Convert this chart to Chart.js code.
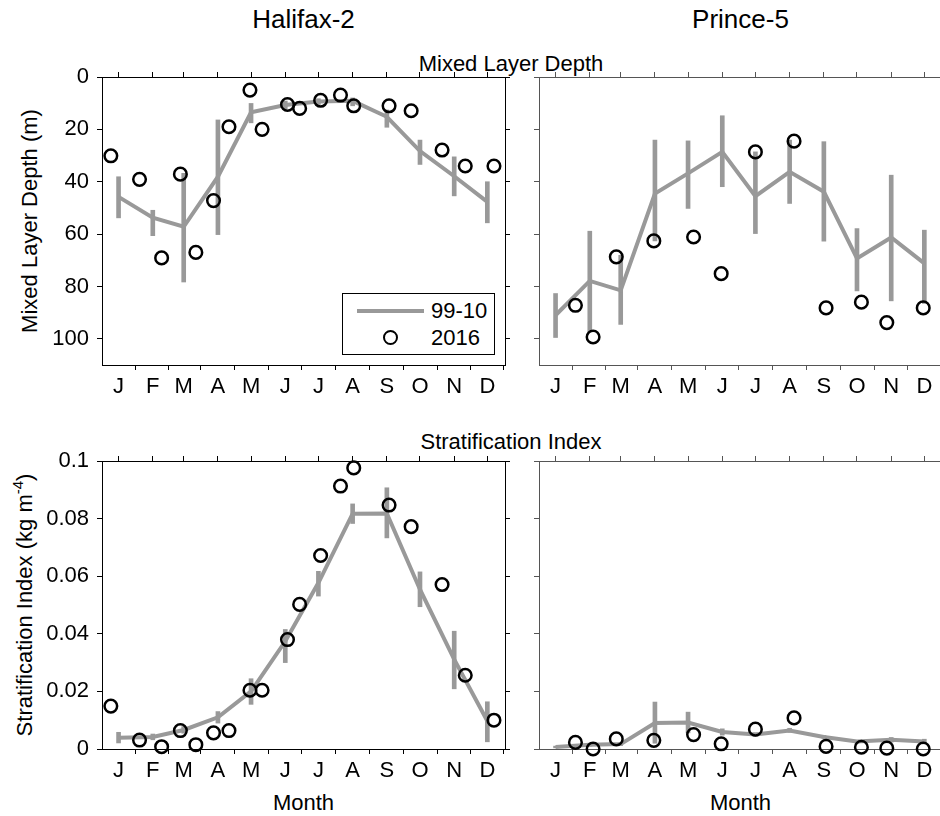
<!DOCTYPE html>
<html>
<head>
<meta charset="utf-8">
<title>Mixed Layer Depth and Stratification Index</title>
<script src="https://cdn.jsdelivr.net/npm/chart.js@4"></script>
<style>
  html, body { margin: 0; padding: 0; background: #fff; overflow: hidden; }
  #fig { position: relative; width: 940px; height: 816px; overflow: hidden; background: #fff;
         font-family: "Liberation Sans", Arial, sans-serif; color: #000; }
  .panel { position: absolute; }
  .txt { position: absolute; white-space: nowrap; line-height: 1; font-size: 22px;
         transform: translate(-50%, -50%); }
  .ttl { font-size: 26px; }
  .ylab { transform: translate(-50%, -50%) rotate(-90deg); }
  .ylab sup { font-size: 15px; line-height: 0; vertical-align: 9px; }
  #legend { position: absolute; left: 342px; top: 293px; width: 153px; height: 62px;
            box-sizing: border-box; border: 1px solid #000; background: #fff; }
  #legend .line { position: absolute; left: 14px; top: 15px; width: 67px; height: 4px; background: #999; }
  #legend .dot { position: absolute; left: 40px; top: 36px; width: 15px; height: 15px;
                 box-sizing: border-box; border: 2.5px solid #000; border-radius: 50%; }
  #legend .lab { position: absolute; left: 88px; font-size: 22px; line-height: 1; transform: translateY(-50%); }
</style>
</head>
<body>
<div id="fig">
  <div class="txt ttl" style="left:303.5px; top:19px;">Halifax-2</div>
  <div class="txt ttl" style="left:740.5px; top:19px;">Prince-5</div>
  <div class="txt" style="left:511px; top:63.5px;">Mixed Layer Depth</div>
  <div class="txt" style="left:511px; top:442px;">Stratification Index</div>
  <div class="txt ylab" style="left:30px; top:221px;">Mixed Layer Depth (m)</div>
  <div class="txt ylab" style="left:25px; top:605px;">Stratification Index (kg m<sup>-4</sup>)</div>
  <div class="txt" style="left:303.5px; top:803px;">Month</div>
  <div class="txt" style="left:740.5px; top:803px;">Month</div>

  <div class="panel" style="left:0px; top:57px; width:511px; height:353px;"><canvas id="hfxMldChart"></canvas></div>
  <div class="panel" style="left:533px; top:57px; width:415px; height:353px;"><canvas id="p5MldChart"></canvas></div>
  <div class="panel" style="left:0px; top:441px; width:511px; height:353px;"><canvas id="hfxSiChart"></canvas></div>
  <div class="panel" style="left:533px; top:441px; width:415px; height:353px;"><canvas id="p5SiChart"></canvas></div>

  <div id="legend">
    <div class="line"></div><div class="lab" style="top:17px;">99-10</div>
    <div class="dot"></div><div class="lab" style="top:44px;">2016</div>
  </div>
</div>
<script>
// month ticks sit at the middle of each month (day of year)
const monthLabels = ['J','F','M','A','M','J','J','A','S','O','N','D'];
const monthDays = [15, 46, 74, 105, 135, 166, 196, 227, 258, 288, 319, 349];

const mldTicks = [0, 20, 40, 60, 80, 100];
const mldTickLabels = ['0', '20', '40', '60', '80', '100'];
const siTicks = [0, 0.02, 0.04, 0.06, 0.08, 0.1];
const siTickLabels = ['0', '0.02', '0.04', '0.06', '0.08', '0.1'];

// Halifax-2, 1999-2010 monthly means and ranges
const hfxMldClim = [45.8, 53.7, 57.2, 38.1, 13.5, 10.7, 9.4, 9.1, 15.2, 28.3, 37.9, 47.7];
const hfxMldLow  = [38.1, 50.9, 36.8, 16.4, 10.1, 9.2, 8.3, 8.0, 12.6, 24.1, 30.5, 40.0];
const hfxMldHigh = [53.8, 60.6, 78.3, 60.2, 17.5, 12.2, 10.5, 11.0, 19.2, 33.4, 45.4, 55.7];
const hfxSiClim  = [0.0039, 0.0042, 0.0066, 0.011, 0.020, 0.0374, 0.0577, 0.0817, 0.0818, 0.0554, 0.0311, 0.0097];
const hfxSiLow   = [0.0021, 0.0032, 0.0055, 0.009, 0.0155, 0.030, 0.0531, 0.0783, 0.0733, 0.0494, 0.0209, 0.0025];
const hfxSiHigh  = [0.0058, 0.0052, 0.0078, 0.013, 0.0244, 0.0415, 0.0617, 0.0851, 0.0907, 0.0615, 0.0409, 0.0164];

// Halifax-2, 2016 occupations
const hfxDays2016 = [8, 34, 54, 71, 85, 101, 115, 134, 145, 168, 179, 198, 216, 228, 260, 280, 308, 329, 355];
const hfxMld2016  = [30.1, 39.1, 69.1, 37.1, 67.0, 47.2, 19.0, 5.0, 20.0, 10.5, 12.0, 8.9, 6.9, 11.0, 11.0, 12.9, 27.9, 34.0, 34.0];
const hfxSi2016   = [0.0149, 0.0031, 0.0008, 0.0064, 0.0015, 0.0056, 0.0064, 0.0204, 0.0204, 0.038, 0.0502, 0.0672, 0.0913, 0.0976, 0.0847, 0.0772, 0.0571, 0.0256, 0.0100];

// Prince-5, 1999-2010 monthly means and ranges
const p5MldClim = [91.0, 77.9, 81.5, 44.5, 36.8, 28.6, 45.5, 36.2, 43.8, 69.3, 61.3, 71.2];
const p5MldLow  = [82.7, 58.9, 68.1, 24.1, 24.4, 14.8, 28.6, 24.1, 24.7, 57.9, 37.5, 58.5];
const p5MldHigh = [99.5, 97.4, 94.5, 62.6, 50.2, 41.9, 59.8, 48.3, 62.7, 81.7, 85.5, 86.5];
const p5SiClim  = [0.0007, 0.0015, 0.0017, 0.009, 0.0092, 0.0059, 0.005, 0.0064, 0.0042, 0.0026, 0.0032, 0.0026];
const p5SiLow   = [0.0004, 0.001, 0.0012, 0.002, 0.0056, 0.0048, 0.0044, 0.0058, 0.0037, 0.002, 0.0024, 0.0018];
const p5SiHigh  = [0.001, 0.002, 0.0022, 0.0163, 0.0128, 0.007, 0.0056, 0.0072, 0.0047, 0.003, 0.004, 0.0034];

// Prince-5, 2016 occupations
const p5Days2016 = [33, 49, 70, 104, 140, 165, 196, 231, 260, 292, 315, 348];
const p5Mld2016  = [87.2, 99.3, 68.7, 62.6, 61.1, 75.1, 28.6, 24.5, 88.2, 86.0, 93.8, 88.2];
const p5Si2016   = [0.0023, 0.0, 0.0035, 0.003, 0.005, 0.0018, 0.0069, 0.0108, 0.0009, 0.0006, 0.0003, 0.0];

const GREY = '#999';
const FONT = {family: '"Liberation Sans", Arial, sans-serif', size: 22};
Chart.defaults.font = FONT;
Chart.defaults.color = '#000';

// fixed axis box sizes, no auto padding, so the plot areas line up across panels
function fixBox(a, w, h) {
    if (w !== null) a.width = w;
    if (h !== null) a.height = h;
    a.paddingTop = a.paddingBottom = a.paddingLeft = a.paddingRight = 0;
}

function monthAxis(position, showLabels, color) {
    return {
        type: 'linear', position: position, min: 0, max: 365, offset: false,
        afterBuildTicks: a => { a.ticks = monthDays.map(v => ({value: v})); },
        afterFit: a => fixBox(a, null, position === 'top' ? 6 : 45),
        ticks: {display: showLabels, padding: 4, autoSkip: false, maxRotation: 0,
                callback: (v, i) => monthLabels[i]},
        grid: {drawOnChartArea: false, drawTicks: true, tickLength: 5, tickColor: color, tickWidth: 1},
        border: {display: true, color: color, width: 1}
    };
}

function valueAxis(position, p, labels, width, color) {
    return {
        type: 'linear', position: position, min: p.min, max: p.max, reverse: p.reverse,
        afterBuildTicks: a => { a.ticks = p.ticks.map(v => ({value: v})); },
        afterFit: a => fixBox(a, width, null),
        ticks: {display: !!labels, padding: 8, callback: (v, i) => labels ? labels[i] : ''},
        grid: {drawOnChartArea: false, drawTicks: true, tickLength: 5, tickColor: color, tickWidth: 1},
        border: {display: true, color: color, width: 1}
    };
}

function makePanel(id, p) {
    const clim = p.clim.map((v, i) => ({x: monthDays[i], y: v}));
    const range = p.low.map((v, i) => ({x: monthDays[i], y: [v, p.high[i]]}));
    const obs = p.obs.map((v, i) => ({x: p.days[i], y: v}));
    return new Chart(document.getElementById(id), {
        type: 'line',
        data: {
            datasets: [
                {type: 'scatter', label: '2016', data: obs, order: 0, clip: false,
                 xAxisID: 'x', yAxisID: 'y', showLine: false,
                 pointRadius: 6.3, pointBorderWidth: 2.5, pointBorderColor: '#000',
                 pointBackgroundColor: 'rgba(0,0,0,0)'},
                {type: 'line', label: '99-10', data: clim, order: 1,
                 xAxisID: 'x', yAxisID: 'y', borderColor: GREY, borderWidth: 4,
                 pointRadius: 0, fill: false, tension: 0},
                {type: 'bar', label: '99-10 range', data: range, order: 2,
                 xAxisID: 'x', yAxisID: 'y', backgroundColor: GREY, borderWidth: 0,
                 barThickness: 4, grouped: false}
            ]
        },
        options: {
            responsive: true, maintainAspectRatio: false, animation: false, events: [],
            // room above the top axis so the first y tick label is not cut
            layout: {padding: {top: 14, left: 0, right: 0, bottom: 0}, autoPadding: false},
            plugins: {legend: {display: false}, tooltip: {enabled: false}},
            scales: {
                x: monthAxis('bottom', true, p.color),
                x2: monthAxis('top', false, p.color),
                y: valueAxis('left', p, p.labels, p.leftWidth, p.color),
                y2: valueAxis('right', p, null, 6, p.color)
            }
        }
    });
}

makePanel('hfxMldChart', {clim: hfxMldClim, low: hfxMldLow, high: hfxMldHigh,
    days: hfxDays2016, obs: hfxMld2016, min: 0, max: 110, reverse: true,
    ticks: mldTicks, labels: mldTickLabels, leftWidth: 102, color: '#000'});
makePanel('p5MldChart', {clim: p5MldClim, low: p5MldLow, high: p5MldHigh,
    days: p5Days2016, obs: p5Mld2016, min: 0, max: 110, reverse: true,
    ticks: mldTicks, labels: null, leftWidth: 6, color: '#555'});
makePanel('hfxSiChart', {clim: hfxSiClim, low: hfxSiLow, high: hfxSiHigh,
    days: hfxDays2016, obs: hfxSi2016, min: 0, max: 0.1, reverse: false,
    ticks: siTicks, labels: siTickLabels, leftWidth: 102, color: '#000'});
makePanel('p5SiChart', {clim: p5SiClim, low: p5SiLow, high: p5SiHigh,
    days: p5Days2016, obs: p5Si2016, min: 0, max: 0.1, reverse: false,
    ticks: siTicks, labels: null, leftWidth: 6, color: '#555'});
</script>
</body>
</html>
